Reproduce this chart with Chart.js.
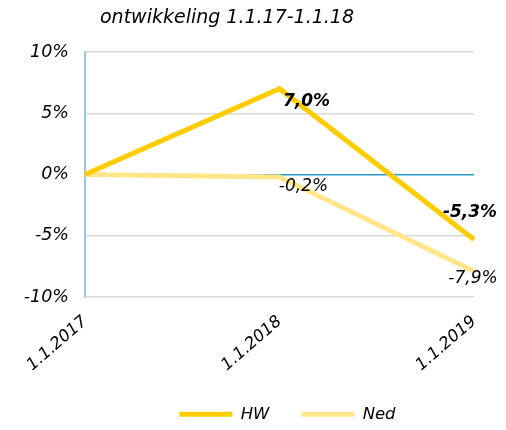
<!DOCTYPE html>
<html><head><meta charset="utf-8">
<script src="https://cdn.jsdelivr.net/npm/chart.js@4/dist/chart.umd.min.js"></script>
<style>html,body{margin:0;padding:0;background:#fff}#wrap{width:506px;height:430px}</style>
</head><body><div id="wrap"><canvas id="c" width="506" height="430"></canvas></div>
<script>
const categories = ['1.1.2017', '1.1.2018', '1.1.2019'];
const seriesNames = ['HW', 'Ned'];
const hwValues = [0, 7.0, -5.3];
const nedValues = [0, -0.2, -7.9];
const yTicks = [-10, -5, 0, 5, 10];
const titleText = 'ontwikkeling 1.1.17-1.1.18';

const FONT = "'DejaVu Sans', Verdana, sans-serif";
const fmt = v => v.toFixed(1).replace('.', ',') + '%';

const titlePlugin = {
  id: 'customTitle',
  afterDraw(chart) {
    const ctx = chart.ctx;
    ctx.save();
    ctx.font = 'italic 19px ' + FONT;
    ctx.fillStyle = '#000';
    ctx.textBaseline = 'middle';
    ctx.textAlign = 'left';
    ctx.fillText(titleText, 100, 18);
    ctx.restore();
  }
};

const legendShift = {
  id: 'legendShift',
  afterLayout(chart) {
    if (chart.legend) { chart.legend.left += 8; chart.legend.right += 8; }
  }
};

const labelPlugin = {
  id: 'pointLabels',
  afterDatasetsDraw(chart) {
    const ctx = chart.ctx;
    const offs = [
      [null, [27, 13], [-4, -27]],
      [null, [24, 10], [-1, 7]]
    ];
    ctx.save();
    ctx.textAlign = 'center';
    ctx.textBaseline = 'middle';
    ctx.fillStyle = '#000';
    chart.data.datasets.forEach((ds, di) => {
      const meta = chart.getDatasetMeta(di);
      ctx.font = (di === 0 ? 'italic bold 17px ' : 'italic 17px ') + FONT;
      ds.data.forEach((v, i) => {
        const o = offs[di][i];
        if (!o) return;
        const p = meta.data[i];
        ctx.fillText(fmt(v), p.x + o[0], p.y + o[1]);
      });
    });
    ctx.restore();
  }
};

new Chart(document.getElementById('c'), {
  type: 'line',
  data: {
    labels: categories,
    datasets: [
      { label: seriesNames[0], data: hwValues, borderColor: '#FFCC00', backgroundColor: '#FFCC00', borderWidth: 5, pointRadius: 0, tension: 0, borderCapStyle: 'butt', borderJoinStyle: 'miter' },
      { label: seriesNames[1], data: nedValues, borderColor: '#FFE68A', backgroundColor: '#FFE68A', borderWidth: 5, pointRadius: 0, tension: 0, borderCapStyle: 'butt', borderJoinStyle: 'miter' }
    ]
  },
  options: {
    responsive: false,
    animation: false,
    layout: { padding: { top: 52, left: 0, right: 32, bottom: 0 } },
    plugins: {
      title: { display: false },
      tooltip: { enabled: false },
      legend: {
        position: 'bottom',
        fullSize: false,
        maxHeight: 56,
        labels: {
          boxWidth: 53,
          boxHeight: 5,
          padding: 32,
          color: '#000',
          font: { family: FONT, size: 16.5, style: 'italic' },
          generateLabels(chart) {
            return chart.data.datasets.map((ds, i) => ({
              text: ds.label, fillStyle: ds.borderColor, strokeStyle: ds.borderColor, lineWidth: 0, datasetIndex: i, fontColor: '#000'
            }));
          }
        }
      }
    },
    scales: {
      x: {
        offset: false,
        grid: { display: false, drawTicks: false },
        border: { display: false },
        ticks: {
          minRotation: 41, maxRotation: 41, color: '#000', padding: 15,
          font: { family: FONT, size: 16.5, style: 'italic' }
        },
        afterFit(scale) { scale.height = 77; }
      },
      y: {
        min: -10, max: 10,
        afterBuildTicks(scale) { scale.ticks = yTicks.map(v => ({ value: v })); },
        grid: {
          color: ctx => ctx.tick && ctx.tick.value === 0 ? '#2A9BC9' : '#D9D9D9',
          lineWidth: 1.5,
          drawTicks: false
        },
        border: { display: true, color: '#9DC3E6', width: 2 },
        ticks: {
          color: '#000', padding: 16,
          font: { family: FONT, size: 17.5, style: 'italic' },
          callback: v => v + '%'
        },
        afterFit(scale) { scale.width = 85; }
      }
    }
  },
  plugins: [titlePlugin, labelPlugin, legendShift]
});
</script>
</body></html>
